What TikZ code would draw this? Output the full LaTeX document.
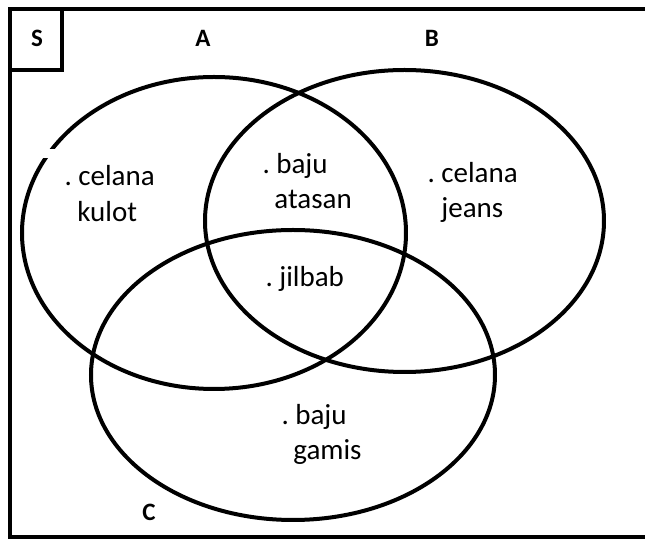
\documentclass[tikz,border=0pt]{standalone}
\usepackage{fontspec}
\setmainfont{Carlito}
\begin{document}
\begin{tikzpicture}[x=0.5pt,y=-0.5pt,
  venn/.style={line width=2pt},
  frame/.style={line width=2pt},
  item/.style={anchor=base west, inner sep=0pt, font=\fontsize{14.5}{17.5}\selectfont},
  setlabel/.style={font=\bfseries\fontsize{12.5}{15}\selectfont, inner sep=0pt}]
\useasboundingbox (0,0) rectangle (645,539);
\clip (0,0) rectangle (645,539);
% universal set frame (its right side lies outside the picture)
\draw[frame] (700,9) -- (10,9) -- (10,537) -- (700,537);
\draw[frame] (10,9) rectangle (62,70);
\node[setlabel] (S) at (37,38) {S};
\node[setlabel] (lA) at (203,38) {A};
\node[setlabel] (lB) at (432,38) {B};
\node[setlabel] (lC) at (149,512) {C};
% sets
\draw[venn] (214,233) ellipse [x radius=96pt, y radius=78pt];
\draw[venn] (404.5,221) ellipse [x radius=99.75pt, y radius=75.5pt];
\draw[venn] (293,375) ellipse [x radius=101pt, y radius=72.5pt];
\fill[white] (41,149) rectangle (57,158);
% elements
\node[item] (a1) at (78,186) {\llap{.\ }celana};
\node[item] (a2) at (77,222) {kulot};
\node[item] (ab1) at (276,174) {\llap{.\ }baju};
\node[item] (ab2) at (274,209) {atasan};
\node[item] (abc) at (279,287) {\llap{.\ }jilbab};
\node[item] (b1) at (441,183) {\llap{.\ }celana};
\node[item] (b2) at (441,218) {jeans};
\node[item] (c1) at (295,425) {\llap{.\ }baju};
\node[item] (c2) at (293,460) {gamis};
\end{tikzpicture}
\end{document}
